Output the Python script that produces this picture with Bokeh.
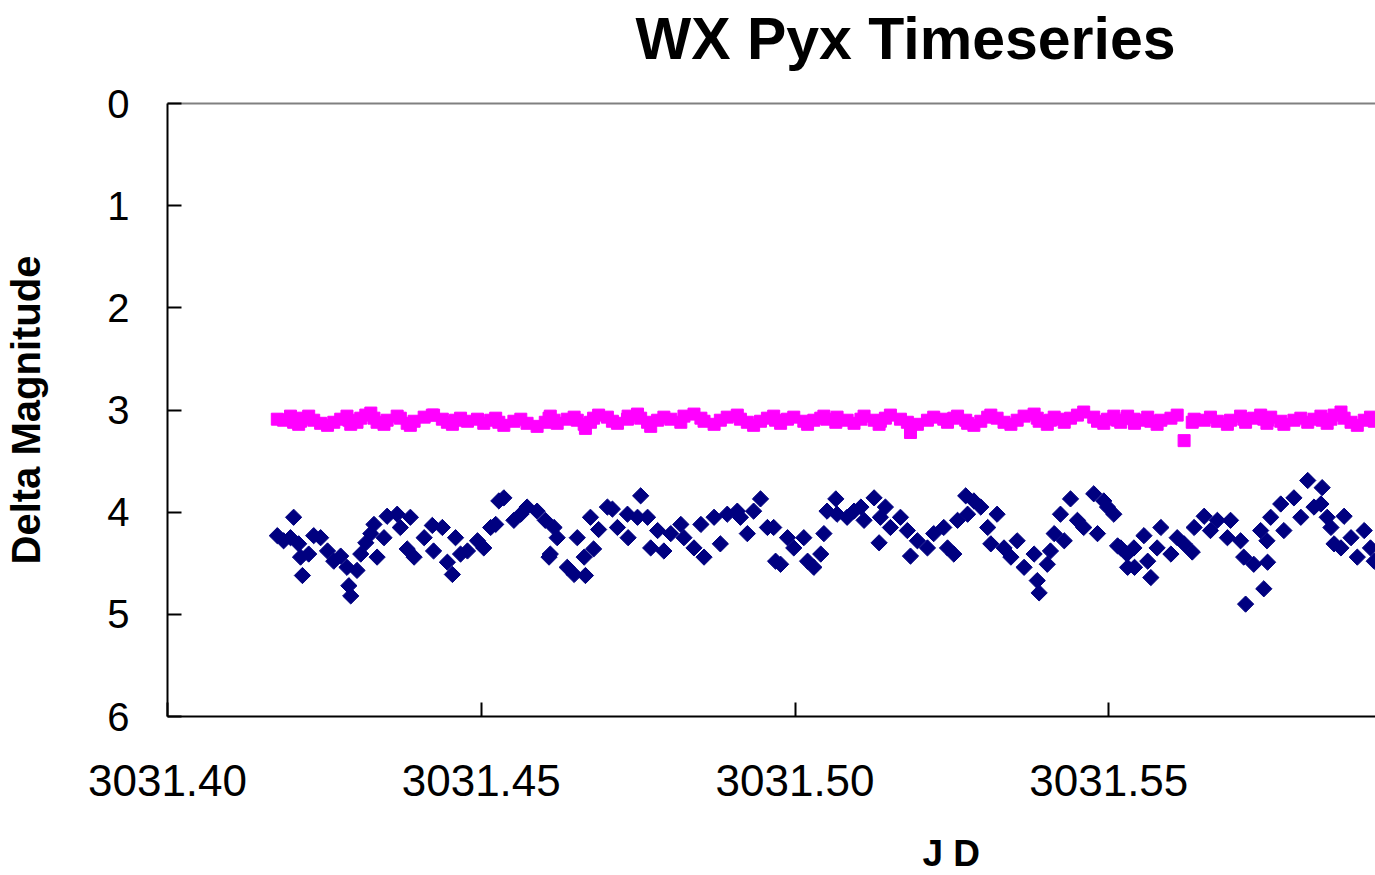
from bokeh.plotting import figure
from bokeh.models import Range1d, FixedTicker, LinearAxis, Title, NumeralTickFormatter
from bokeh.embed import file_html
from bokeh.resources import INLINE

# ---- data ----
jd = [
    3031.4175, 3031.4185, 3031.4196, 3031.4201, 3031.4209, 3031.4212, 3031.4215, 3031.4225, 3031.4233, 3031.4244,
    3031.4255, 3031.4265, 3031.4276, 3031.4286, 3031.4289, 3031.4292, 3031.4302, 3031.4308, 3031.4316, 3031.4324,
    3031.4329, 3031.4334, 3031.4345, 3031.4350, 3031.4366, 3031.4371, 3031.4382, 3031.4387, 3031.4393, 3031.4409,
    3031.4422, 3031.4424, 3031.4438, 3031.4446, 3031.4454, 3031.4459, 3031.4467, 3031.4478, 3031.4494, 3031.4504,
    3031.4515, 3031.4523, 3031.4528, 3031.4536, 3031.4552, 3031.4563, 3031.4573, 3031.4589, 3031.4602, 3031.4608,
    3031.4610, 3031.4616, 3031.4621, 3031.4637, 3031.4648, 3031.4653, 3031.4664, 3031.4666, 3031.4674, 3031.4679,
    3031.4687, 3031.4701, 3031.4709, 3031.4717, 3031.4733, 3031.4734, 3031.4749, 3031.4754, 3031.4765, 3031.4770,
    3031.4781, 3031.4791, 3031.4802, 3031.4818, 3031.4823, 3031.4839, 3031.4850, 3031.4855, 3031.4871, 3031.4881,
    3031.4892, 3031.4908, 3031.4913, 3031.4924, 3031.4934, 3031.4945, 3031.4956, 3031.4966, 3031.4969, 3031.4977,
    3031.4988, 3031.4998, 3031.5014, 3031.5020, 3031.5030, 3031.5041, 3031.5046, 3031.5051, 3031.5065, 3031.5067,
    3031.5083, 3031.5094, 3031.5105, 3031.5110, 3031.5126, 3031.5134, 3031.5136, 3031.5144, 3031.5152, 3031.5168,
    3031.5179, 3031.5184, 3031.5195, 3031.5211, 3031.5221, 3031.5237, 3031.5243, 3031.5253, 3031.5259, 3031.5272,
    3031.5275, 3031.5285, 3031.5296, 3031.5307, 3031.5312, 3031.5322, 3031.5333, 3031.5344, 3031.5354, 3031.5365,
    3031.5381, 3031.5386, 3031.5389, 3031.5402, 3031.5407, 3031.5413, 3031.5423, 3031.5429, 3031.5439, 3031.5450,
    3031.5460, 3031.5476, 3031.5482, 3031.5492, 3031.5498, 3031.5508, 3031.5514, 3031.5519, 3031.5529, 3031.5530,
    3031.5540, 3031.5541, 3031.5556, 3031.5562, 3031.5567, 3031.5577, 3031.5583, 3031.5599, 3031.5609, 3031.5620,
    3031.5633, 3031.5636, 3031.5652, 3031.5662, 3031.5673, 3031.5689, 3031.5694, 3031.5710, 3031.5715, 3031.5718,
    3031.5731, 3031.5742, 3031.5747, 3031.5752, 3031.5753, 3031.5758, 3031.5774, 3031.5779, 3031.5795, 3031.5806,
    3031.5817, 3031.5827, 3031.5838, 3031.5840, 3031.5848, 3031.5854, 3031.5859, 3031.5870, 3031.5875, 3031.5886,
    3031.5896, 3031.5907, 3031.5917, 3031.5923,
]

wx_pyx = [
    4.23, 4.28, 4.25, 4.05, 4.31, 4.44, 4.62, 4.41, 4.23, 4.25,
    4.38, 4.48, 4.43, 4.54, 4.72, 4.82, 4.57, 4.41, 4.30, 4.21,
    4.12, 4.44, 4.25, 4.04, 4.02, 4.15, 4.36, 4.05, 4.44, 4.25,
    4.13, 4.38, 4.15, 4.49, 4.61, 4.25, 4.41, 4.38, 4.28, 4.35,
    4.15, 4.12, 3.89, 3.86, 4.08, 4.02, 3.95, 3.99, 4.08, 4.44,
    4.41, 4.15, 4.25, 4.54, 4.61, 4.25, 4.44, 4.62, 4.05, 4.36,
    4.17, 3.95, 3.97, 4.15, 4.02, 4.25, 4.05, 3.84, 4.05, 4.35,
    4.18, 4.38, 4.21, 4.12, 4.25, 4.35, 4.12, 4.44, 4.05, 4.31,
    4.02, 3.99, 4.05, 4.21, 3.99, 3.87, 4.15, 4.15, 4.48, 4.51,
    4.25, 4.35, 4.25, 4.48, 4.54, 4.41, 4.21, 3.99, 3.87, 4.02,
    4.05, 3.99, 3.95, 4.08, 3.86, 4.30, 4.05, 3.95, 4.15, 4.05,
    4.18, 4.43, 4.28, 4.35, 4.21, 4.15, 4.35, 4.41, 4.08, 3.84,
    4.02, 3.89, 3.95, 4.15, 4.31, 4.02, 4.35, 4.44, 4.28, 4.54,
    4.41, 4.67, 4.79, 4.51, 4.38, 4.21, 4.02, 4.28, 3.87, 4.08,
    4.15, 3.82, 4.21, 3.89, 3.95, 4.02, 4.33, 4.35, 4.41, 4.54,
    4.35, 4.54, 4.23, 4.48, 4.64, 4.35, 4.15, 4.41, 4.25, 4.31,
    4.39, 4.15, 4.04, 4.18, 4.08, 4.25, 4.08, 4.28, 4.44, 4.90,
    4.51, 4.18, 4.75, 4.28, 4.49, 4.05, 3.92, 4.18, 3.86, 4.05,
    3.69, 3.95, 3.92, 3.76, 4.05, 4.15, 4.31, 4.35, 4.04, 4.25,
    4.44, 4.18, 4.35, 4.48,
]

comparison = [
    3.09, 3.10, 3.06, 3.12, 3.14, 3.11, 3.08, 3.06, 3.10, 3.13,
    3.15, 3.12, 3.09, 3.06, 3.10, 3.14, 3.12, 3.08, 3.05, 3.03,
    3.08, 3.12, 3.14, 3.10, 3.06, 3.08, 3.13, 3.15, 3.11, 3.07,
    3.05, 3.05, 3.09, 3.12, 3.14, 3.10, 3.08, 3.11, 3.09, 3.13,
    3.10, 3.08, 3.12, 3.15, 3.11, 3.09, 3.13, 3.16, 3.12, 3.08,
    3.06, 3.10, 3.13, 3.09, 3.07, 3.10, 3.14, 3.18, 3.12, 3.08,
    3.05, 3.07, 3.11, 3.13, 3.09, 3.06, 3.04, 3.08, 3.12, 3.16,
    3.10, 3.07, 3.09, 3.12, 3.06, 3.04, 3.08, 3.11, 3.14, 3.10,
    3.07, 3.05, 3.09, 3.12, 3.15, 3.11, 3.08, 3.06, 3.10, 3.13,
    3.09, 3.07, 3.11, 3.14, 3.10, 3.08, 3.06, 3.09, 3.12, 3.07,
    3.10, 3.13, 3.09, 3.06, 3.10, 3.14, 3.11, 3.08, 3.05, 3.09,
    3.12, 3.22, 3.14, 3.10, 3.07, 3.09, 3.12, 3.08, 3.06, 3.10,
    3.13, 3.15, 3.11, 3.07, 3.05, 3.08, 3.12, 3.14, 3.10, 3.06,
    3.04, 3.08, 3.11, 3.14, 3.10, 3.07, 3.09, 3.12, 3.08, 3.05,
    3.02, 3.07, 3.11, 3.13, 3.09, 3.06, 3.10, 3.12, 3.08, 3.06,
    3.09, 3.13, 3.10, 3.07, 3.11, 3.14, 3.10, 3.08, 3.05, 3.30,
    3.12, 3.09, 3.10, 3.07, 3.11, 3.14, 3.10, 3.06, 3.09, 3.12,
    3.08, 3.05, 3.09, 3.13, 3.10, 3.07, 3.11, 3.14, 3.10, 3.08,
    3.12, 3.09, 3.06, 3.10, 3.13, 3.09, 3.05, 3.02, 3.08, 3.12,
    3.15, 3.10, 3.07, 3.11,
]

x_ticks = [3031.40, 3031.45, 3031.50, 3031.55, 3031.60]
y_ticks = [0, 1, 2, 3, 4, 5, 6]

FONT = "Liberation Sans"

p = figure(
    width=1375, height=875,
    output_backend="svg", toolbar_location=None,
    x_range=Range1d(3031.40, 3031.5925),
    y_range=Range1d(6, 0),
    min_border_left=167, min_border_right=0,
    min_border_top=102, min_border_bottom=159,
)
p.grid.visible = False
p.outline_line_color = None
p.background_fill_color = "white"
p.border_fill_color = "white"

n = min(len(jd), len(wx_pyx), len(comparison))
p.scatter(jd[:n], comparison[:n], marker="square", size=12,
          fill_color="#FF00FF", line_color="#FF00FF")
p.scatter(jd[:n], wx_pyx[:n], marker="square", angle=0.785398, size=11.5,
          fill_color="#000080", line_color="#000080")

# x axis (a blank axis label is used only as vertical spacing before "J D")
xa = p.xaxis[0]
xa.ticker = FixedTicker(ticks=x_ticks)
xa.formatter = NumeralTickFormatter(format="0.00")
xa.axis_line_width = 2
xa.axis_line_color = "black"
xa.major_tick_in = 14
xa.major_tick_out = 0
xa.major_tick_line_width = 2
xa.minor_tick_line_color = None
xa.major_label_text_font = FONT
xa.major_label_text_font_size = "44px"
xa.major_label_text_color = "black"
xa.major_label_standoff = 48
xa.axis_label = " "
xa.axis_label_text_font_size = "1px"
xa.axis_label_standoff = 26

# y axis
ya = p.yaxis[0]
ya.ticker = FixedTicker(ticks=y_ticks)
ya.axis_line_width = 2
ya.axis_line_color = "black"
ya.major_tick_in = 14
ya.major_tick_out = 0
ya.major_tick_line_width = 2
ya.minor_tick_line_color = None
ya.major_label_text_font = FONT
ya.major_label_text_font_size = "40px"
ya.major_label_text_color = "black"
ya.major_label_standoff = 38
ya.axis_label = "Delta Magnitude"
ya.axis_label_text_font = FONT
ya.axis_label_text_font_size = "40px"
ya.axis_label_text_font_style = "bold"
ya.axis_label_text_color = "black"
ya.axis_label_standoff = 56

# top border line (blank label gives spacing below the title)
top = LinearAxis(ticker=FixedTicker(ticks=[]), axis_line_color="#808080", axis_line_width=2,
                 major_tick_line_color=None, minor_tick_line_color=None,
                 major_label_text_font_size="0px",
                 axis_label=" ", axis_label_text_font_size="1px", axis_label_standoff=25)
p.add_layout(top, "above")

p.add_layout(Title(text="WX Pyx Timeseries", align="left", offset=468, standoff=6,
                   text_font=FONT, text_font_size="59px", text_font_style="bold",
                   text_color="black"), "above")

p.add_layout(Title(text="J D", align="left", offset=755, standoff=4,
                   text_font=FONT, text_font_size="37px", text_font_style="bold",
                   text_color="black"), "below")

open("out.html", "w").write(file_html(p, INLINE))
